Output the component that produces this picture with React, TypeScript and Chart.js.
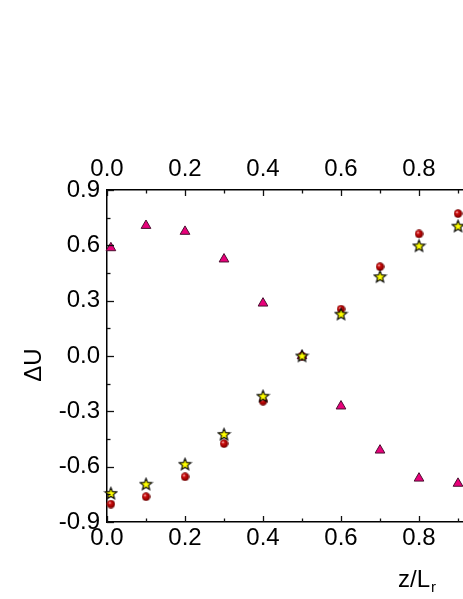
import React, { useEffect, useRef } from "react";
import { Chart, registerables } from "chart.js";

Chart.register(...registerables);

const zValues = [0.01, 0.1, 0.2, 0.3, 0.4, 0.5, 0.6, 0.7, 0.8, 0.9];
const triangleValues = [0.586, 0.707, 0.675, 0.525, 0.286, 0.0, -0.272, -0.511, -0.663, -0.691];
const sphereValues = [-0.803, -0.763, -0.655, -0.475, -0.245, 0.0, 0.254, 0.484, 0.662, 0.772];
const starValues = [-0.745, -0.695, -0.587, -0.425, -0.218, 0.0, 0.227, 0.43, 0.597, 0.704];

const xMajorTicks = [0.0, 0.2, 0.4, 0.6, 0.8];
const xMinorTicks = [0.1, 0.3, 0.5, 0.7, 0.9];
const yMajorTicks = [-0.9, -0.6, -0.3, 0.0, 0.3, 0.6, 0.9];
const yMinorTicks = [-0.75, -0.45, -0.15, 0.15, 0.45, 0.75];

const FONT = "'Liberation Sans', Arial, sans-serif";

function makeSphere(): HTMLCanvasElement {
  const c = document.createElement("canvas");
  c.width = 9;
  c.height = 9;
  const ctx = c.getContext("2d")!;
  const g = ctx.createRadialGradient(3.2, 3.0, 0.3, 4.5, 4.5, 4.6);
  g.addColorStop(0, "#ffd0d0");
  g.addColorStop(0.25, "#d01010");
  g.addColorStop(0.7, "#9a0000");
  g.addColorStop(1, "#500000");
  ctx.fillStyle = g;
  ctx.beginPath();
  ctx.arc(4.5, 4.5, 4.2, 0, Math.PI * 2);
  ctx.fill();
  return c;
}

function makeStar(): HTMLCanvasElement {
  const c = document.createElement("canvas");
  c.width = 15;
  c.height = 15;
  const ctx = c.getContext("2d")!;
  const cx = 7.5, cy = 7.8, R = 6.2, r = 2.7;
  ctx.beginPath();
  for (let i = 0; i < 10; i++) {
    const rad = i % 2 === 0 ? R : r;
    const a = -Math.PI / 2 + (i * Math.PI) / 5;
    const px = cx + rad * Math.cos(a);
    const py = cy + rad * Math.sin(a);
    if (i === 0) ctx.moveTo(px, py);
    else ctx.lineTo(px, py);
  }
  ctx.closePath();
  ctx.fillStyle = "#ffff00";
  ctx.fill();
  ctx.lineWidth = 1.1;
  ctx.strokeStyle = "#000000";
  ctx.stroke();
  return c;
}

const inwardTicks = {
  id: "inwardTicks",
  afterDraw(chart: any) {
    const ctx = chart.ctx;
    const { x, y } = chart.scales;
    const area = chart.chartArea;
    ctx.save();
    ctx.strokeStyle = "#111";
    ctx.lineWidth = 1.3;
    const major = 6;
    const minor = 3.5;
    const drawX = (vals: number[], len: number) => {
      vals.forEach((v) => {
        const px = Math.round(x.getPixelForValue(v)) + 0.5;
        if (px > area.right + 1) return;
        ctx.beginPath();
        ctx.moveTo(px, area.bottom);
        ctx.lineTo(px, area.bottom - len);
        ctx.moveTo(px, area.top);
        ctx.lineTo(px, area.top + len);
        ctx.stroke();
      });
    };
    drawX(xMajorTicks, major);
    drawX(xMinorTicks, minor);
    const drawY = (vals: number[], len: number) => {
      vals.forEach((v) => {
        const py = Math.round(y.getPixelForValue(v)) + 0.5;
        ctx.beginPath();
        ctx.moveTo(area.left, py);
        ctx.lineTo(area.left + len, py);
        ctx.stroke();
      });
    };
    drawY(yMajorTicks, major + 1);
    drawY(yMinorTicks, minor);

    ctx.fillStyle = "#000";
    // y axis title
    ctx.save();
    ctx.translate(34, (area.top + area.bottom) / 2 + 9);
    ctx.rotate(-Math.PI / 2);
    ctx.textAlign = "center";
    ctx.textBaseline = "middle";
    ctx.font = `24px ${FONT}`;
    ctx.fillText("ΔU", 0, 0);
    ctx.restore();

    // x axis title with subscript
    const left = area.left + 291;
    const base = 587;
    ctx.textBaseline = "alphabetic";
    ctx.textAlign = "left";
    ctx.font = `24px ${FONT}`;
    ctx.fillText("z/L", left, base);
    const w = ctx.measureText("z/L").width;
    ctx.font = `15px ${FONT}`;
    ctx.fillText("r", left + w + 1, base + 5);
    ctx.restore();
  },
};

export default function App() {
  const ref = useRef<HTMLCanvasElement>(null);
  useEffect(() => {
    if (!ref.current) return;
    const sphere = makeSphere();
    const star = makeStar();
    const tickFont = { family: FONT, size: 24 };
    const chart = new Chart(ref.current, {
      type: "scatter",
      data: {
        datasets: [
          {
            label: "stars",
            data: zValues.map((z, i) => ({ x: z, y: starValues[i] })),
            pointStyle: star as any,
            pointRadius: 7,
            order: 0,
            clip: false as any,
          },
          {
            label: "spheres",
            data: zValues.map((z, i) => ({ x: z, y: sphereValues[i] })),
            pointStyle: sphere as any,
            pointRadius: 5,
            order: 1,
            clip: false as any,
          },
          {
            label: "triangles",
            data: zValues.map((z, i) => ({ x: z, y: triangleValues[i] })),
            pointStyle: "triangle",
            pointRadius: 5.6,
            backgroundColor: "#e8007a",
            borderColor: "#4a1030",
            borderWidth: 1,
            order: 2,
            clip: false as any,
          },
        ],
      },
      options: {
        responsive: false,
        animation: false,
        layout: { padding: 0, autoPadding: false },
        plugins: { legend: { display: false }, tooltip: { enabled: false } },
        scales: {
          x: {
            type: "linear",
            position: "bottom",
            min: 0,
            max: 0.9128,
            afterBuildTicks: (s: any) => {
              s.ticks = xMajorTicks.map((v) => ({ value: v }));
            },
            afterFit: (s: any) => {
              s.height = 77;
            },
            grid: { display: false, drawTicks: false },
            border: { display: true, color: "#000", width: 1.5 },
            ticks: {
              font: tickFont,
              color: "#000",
              padding: 2,
              maxRotation: 0,
              callback: (v: any) => Number(v).toFixed(1),
            },
          },
          xTop: {
            type: "linear",
            position: "top",
            min: 0,
            max: 0.9128,
            afterBuildTicks: (s: any) => {
              s.ticks = xMajorTicks.map((v) => ({ value: v }));
            },
            afterFit: (s: any) => {
              s.height = 190;
            },
            grid: { display: false, drawTicks: false },
            border: { display: true, color: "#000", width: 1.5 },
            ticks: {
              font: tickFont,
              color: "#000",
              padding: 6,
              maxRotation: 0,
              callback: (v: any) => Number(v).toFixed(1),
            },
          },
          y: {
            type: "linear",
            position: "left",
            min: -0.9,
            max: 0.9,
            afterBuildTicks: (s: any) => {
              s.ticks = yMajorTicks.map((v) => ({ value: v }));
            },
            afterFit: (s: any) => {
              s.width = 107;
            },
            grid: { display: false, drawTicks: false },
            border: { display: true, color: "#000", width: 1.5 },
            ticks: {
              font: tickFont,
              color: "#000",
              padding: 7,
              callback: (v: any) => Number(v).toFixed(1),
            },
          },
        },
      },
      plugins: [inwardTicks],
    });
    return () => chart.destroy();
  }, []);
  return (
    <div style={{ position: "fixed", left: 0, top: 0, width: 463, height: 599, background: "#fff" }}>
      <canvas ref={ref} width={463} height={599} style={{ display: "block" }} />
    </div>
  );
}
